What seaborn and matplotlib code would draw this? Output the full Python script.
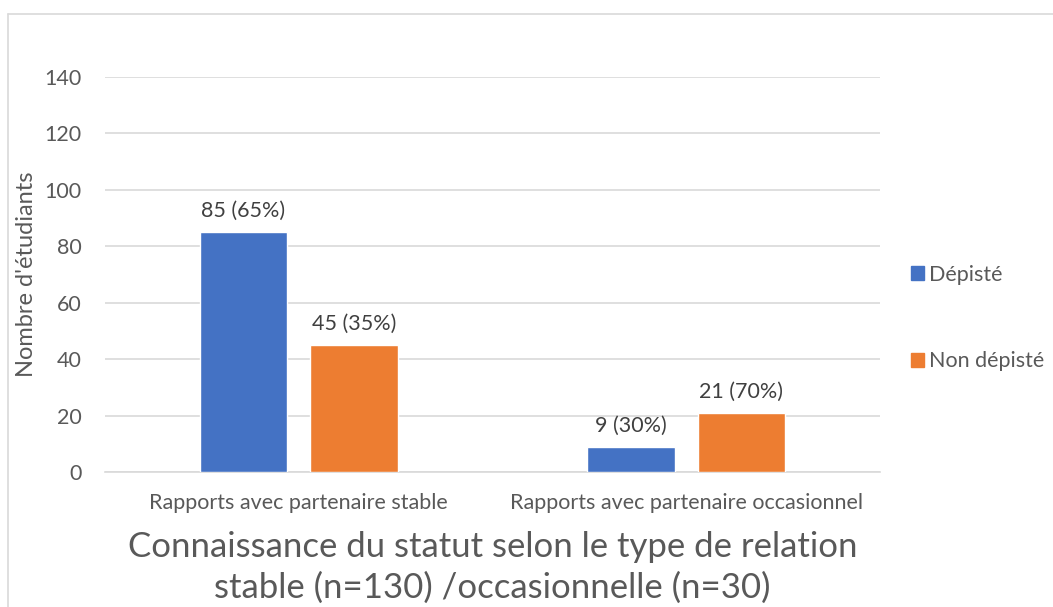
import matplotlib
matplotlib.use("Agg")
import matplotlib.pyplot as plt
import pandas as pd
import seaborn as sns
from matplotlib.lines import Line2D

categories = ["Rapports avec partenaire stable", "Rapports avec partenaire occasionnel"]
statuts = ["Dépisté", "Non dépisté"]
depiste = [85, 9]
non_depiste = [45, 21]
etiquettes_depiste = ["85 (65%)", "9 (30%)"]
etiquettes_non_depiste = ["45 (35%)", "21 (70%)"]
y_ticks = [0, 20, 40, 60, 80, 100, 120, 140]

df = pd.DataFrame({
    "Type": categories * 2,
    "Statut": [statuts[0]] * 2 + [statuts[1]] * 2,
    "Nombre": depiste + non_depiste,
})

sns.set_style("white")
plt.rcParams["font.family"] = ["Lato", "DejaVu Sans"]
txt = "#595959"

fig = plt.figure(figsize=(10.53, 6.07), dpi=100)
ax = fig.add_axes([0.0997, 0.2224, 0.736, 0.6507])

sns.barplot(data=df, x="Type", y="Nombre", hue="Statut", order=categories,
            hue_order=statuts, palette=["#4472C4", "#ED7D31"],
            width=0.57, gap=0.21, ax=ax, zorder=3, saturation=1)

labels = [etiquettes_depiste, etiquettes_non_depiste]
for cont, labs in zip(ax.containers, labels):
    ax.bar_label(cont, labels=labs, padding=8, fontsize=15.5, color="#404040")

ax.set_ylim(0, 140)
ax.set_xlim(-0.5, 1.5)
ax.set_yticks(y_ticks)
ax.grid(axis="y", color="#D9D9D9", linewidth=1.2, zorder=0)
for s in ["top", "right", "left"]:
    ax.spines[s].set_visible(False)
ax.spines["bottom"].set_color("#D9D9D9")
ax.spines["bottom"].set_linewidth(1.2)
ax.tick_params(axis="both", length=0, labelsize=15.5, colors=txt)
ax.tick_params(axis="x", pad=15)
ax.tick_params(axis="y", pad=17)

ax.set_ylabel("Nombre d'étudiants", fontsize=17, color=txt, labelpad=5)
ax.set_xlabel("Connaissance du statut selon le type de relation\nstable (n=130) /occasionnelle (n=30)",
              fontsize=25, color=txt, labelpad=13, linespacing=1.35)

handles = [plt.Rectangle((0, 0), 1, 1, color=c) for c in ["#4472C4", "#ED7D31"]]
ax.legend(handles, statuts, loc="center left", bbox_to_anchor=(1.04, 0.39),
          frameon=False, fontsize=15.5, labelcolor=txt, handlelength=0.6,
          handleheight=0.6, handletextpad=0.25, labelspacing=3.1,
          borderaxespad=0, borderpad=0)

fig.add_artist(Line2D([8 / 1053, 8 / 1053], [0, 1 - 14 / 607], color="#D9D9D9",
                      linewidth=1.2, transform=fig.transFigure))
fig.add_artist(Line2D([8 / 1053, 1], [1 - 14 / 607, 1 - 14 / 607], color="#D9D9D9",
                      linewidth=1.2, transform=fig.transFigure))

fig.savefig("out.png", dpi=100)
